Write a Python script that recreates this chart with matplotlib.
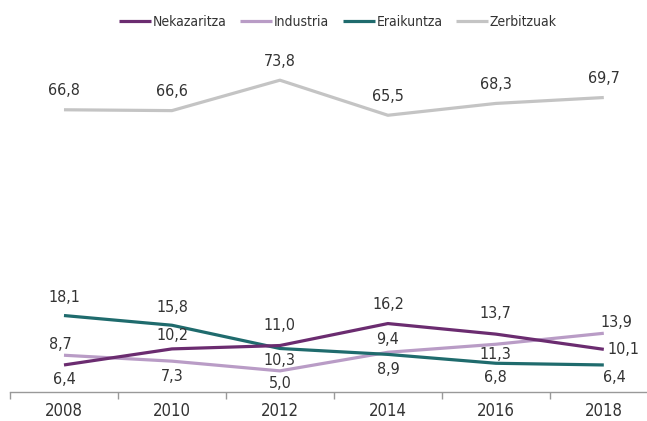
import matplotlib
matplotlib.use('Agg')
import matplotlib.pyplot as plt

# Data
years = ['2008', '2010', '2012', '2014', '2016', '2018']
nekazaritza = [6.4, 10.2, 11.0, 16.2, 13.7, 10.1]
industria = [8.7, 7.3, 5.0, 9.4, 11.3, 13.9]
eraikuntza = [18.1, 15.8, 10.3, 8.9, 6.8, 6.4]
zerbitzuak = [66.8, 66.6, 73.8, 65.5, 68.3, 69.7]
names = ['Nekazaritza', 'Industria', 'Eraikuntza', 'Zerbitzuak']

# Style
colors = ['#6b2c70', '#b99cc6', '#1f6b6d', '#c4c4c4']
textcol = '#333333'
plt.rcParams['font.family'] = ['Liberation Sans Narrow', 'DejaVu Sans']
plt.rcParams['font.stretch'] = 'condensed'

# label offsets in pixels (dx, dy) from each point
offsets = [
    [(0, -15), (0, 13), (0, 20), (0, 19), (0, 21), (20, 0)],
    [(-4, 11), (0, -15), (0, -13), (0, 13), (0, -10), (13, 11)],
    [(0, 18), (0, 18), (0, -12), (0, -15), (0, -14), (11, -13)],
    [(0, 19), (0, 19), (0, 19), (0, 19), (0, 19), (0, 19)],
]

fig = plt.figure(figsize=(6.47, 4.21), dpi=100)
ax = fig.add_axes([10/647, 1 - 392/421, 1 - 10/647, 338/421])

x = list(range(len(years)))
series = [nekazaritza, industria, eraikuntza, zerbitzuak]
zorders = [5, 3, 4, 2]
for vals, name, col, offs, z in zip(series, names, colors, offsets, zorders):
    ax.plot(x, vals, color=col, lw=2.3, label=name, zorder=z, solid_capstyle='butt')
    for xi, v, (dx, dy) in zip(x, vals, offs):
        ax.annotate(f'{v:.1f}'.replace('.', ','), (xi, v), xytext=(dx, dy),
                    textcoords='offset pixels', ha='center', va='center',
                    fontsize=11.5, color=textcol, zorder=6)

ax.set_xlim(-0.5, 5.4)
ax.set_ylim(0, 80)
for s in ['top', 'right', 'left']:
    ax.spines[s].set_visible(False)
ax.spines['bottom'].set_color('#999999')
ax.spines['bottom'].set_linewidth(1)
ax.set_yticks([])
ax.set_xticks(x)
ax.set_xticklabels(years, fontsize=12, color=textcol)
ax.tick_params(axis='x', which='major', length=0, pad=7)
ax.set_xticks([i - 0.5 for i in x], minor=True)
ax.tick_params(axis='x', which='minor', length=5, color='#999999', width=1)

fig.legend(loc='center', bbox_to_anchor=(338/647, 1 - 22/421), ncol=4,
           frameon=False, fontsize=10, handlelength=2.3, handletextpad=0.1,
           columnspacing=1.0, labelcolor=textcol)

plt.savefig('out.png', dpi=100)
